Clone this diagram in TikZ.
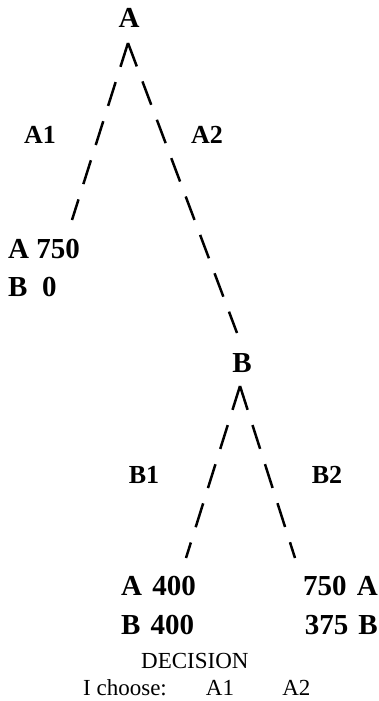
\documentclass[tikz,border=0pt]{standalone}
\usepackage{fontspec}
\setmainfont{Liberation Serif}
\begin{document}
\begin{tikzpicture}[x=1pt,y=-1pt,
  lbl/.style={font=\fontsize{29}{31}\selectfont\bfseries, inner sep=0pt},
  mv/.style={font=\fontsize{26}{28}\selectfont\bfseries, inner sep=0pt},
  note/.style={font=\fontsize{23}{25}\selectfont, inner sep=0pt},
  branch/.style={line width=2.5pt, dash pattern=on 25pt off 16pt}]
\useasboundingbox (0,0) rectangle (379,701);
% decision nodes
\node[lbl, anchor=base] (nA) at (129,28) {A};
\node[lbl, anchor=base] (nB) at (242,372) {B};
\coordinate (topA) at (128,43);
\coordinate (topB) at (240,386);
% end points of the branches
\coordinate (endA1) at (72,220);
\coordinate (endA2) at (237,333);
\coordinate (endB1) at (186,558);
\coordinate (endB2) at (295,558);
\draw[branch] (topA) -- (endA1);
\draw[branch] (topA) -- (endA2);
\draw[branch] (topB) -- (endB1);
\draw[branch] (topB) -- (endB2);
% move labels
\node[mv, anchor=base] (mA1) at (40,143) {A1};
\node[mv, anchor=base] (mA2) at (207,143) {A2};
\node[mv, anchor=base] (mB1) at (144,483) {B1};
\node[mv, anchor=base] (mB2) at (327,483) {B2};
% payoffs
\node[lbl, anchor=base west] (pA1a) at (8,258) {A 750};
\node[lbl, anchor=base west] (pA1b) at (8,296) {B\hspace{0.5em}0};
\node[lbl, anchor=base west] (pB1a) at (121,595) {A\hspace{0.1em} 400};
\node[lbl, anchor=base west] (pB1b) at (121,634) {B\hspace{0.1em} 400};
\node[lbl, anchor=base east] (pB2a) at (378,595) {750\hspace{0.1em} A};
\node[lbl, anchor=base east] (pB2b) at (378,634) {375\hspace{0.1em} B};
% decision line
\node[note, anchor=base west] (dec) at (141,668) {DECISION};
\node[note, anchor=base west] (ch) at (83,695) {I choose:\hspace{1.7em}A1\hspace{2.1em}A2};
\end{tikzpicture}
\end{document}
